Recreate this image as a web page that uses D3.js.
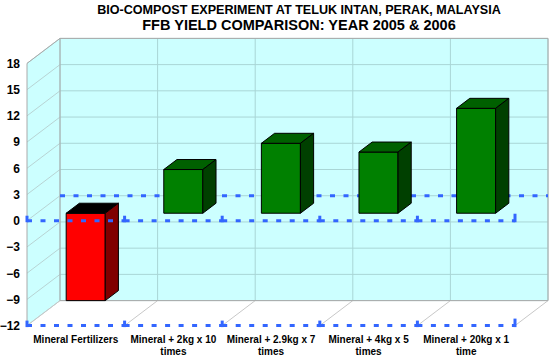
<!DOCTYPE html>
<html>
<head>
<meta charset="utf-8">
<script src="https://cdn.jsdelivr.net/npm/d3@7"></script>
<style>
    body { margin: 0; background: #fff; }
    text { font-family: "Liberation Sans", Arial, sans-serif; font-weight: bold; fill: #000; }
</style>
</head>
<body>
<svg id="chart"></svg>
<script>
const titleLines = ['BIO-COMPOST EXPERIMENT AT TELUK INTAN, PERAK, MALAYSIA',
                    'FFB YIELD COMPARISON: YEAR 2005 & 2006'];
const categories = ['Mineral Fertilizers', 'Mineral + 2kg x 10 times', 'Mineral + 2.9kg x 7 times',
                    'Mineral + 4kg x 5 times', 'Mineral + 20kg x 1 time'];
const yieldChange = [-10, 5, 8, 7, 12];
const yTicks = [-12, -9, -6, -3, 0, 3, 6, 9, 12, 15, 18];

function drawChart() {
    var width = 550, height = 359;
    var plotLeft = 27, plotRight = 515, plotBottom = 325.6, plotTop = 63.4;
    // depth offset of the 3d box
    var DX = 33, DY = -25;

    var svg = d3.select('#chart')
        .attr('width', width)
        .attr('height', height);

    var x = d3.scaleBand().domain(categories).range([plotLeft, plotRight]).padding(0);
    var y = d3.scaleLinear().domain([yTicks[0], yTicks[yTicks.length-1]]).range([plotBottom, plotTop]);

    function pts(a) { return a.map(function(p) {return p.join(',');}).join(' '); }

    // back wall
    svg.append('polygon')
        .attr('points', pts([[plotLeft+DX, plotTop+DY], [plotRight+DX, plotTop+DY],
                             [plotRight+DX, plotBottom+DY], [plotLeft+DX, plotBottom+DY]]))
        .attr('fill', '#ccffff');
    // left wall
    svg.append('polygon')
        .attr('points', pts([[plotLeft, plotTop], [plotLeft+DX, plotTop+DY],
                             [plotLeft+DX, plotBottom+DY], [plotLeft, plotBottom]]))
        .attr('fill', '#ccffff');

    var grid = svg.append('g').attr('class', 'grid');
    grid.selectAll('line.h')
        .data(yTicks)
        .enter().append('line')
        .attr('x1', plotLeft+DX).attr('x2', plotRight+DX)
        .attr('y1', function(d) {return y(d)+DY;})
        .attr('y2', function(d) {return y(d)+DY;})
        .attr('stroke', '#a9d6d6');
    grid.selectAll('line.d')
        .data(yTicks)
        .enter().append('line')
        .attr('x1', plotLeft).attr('x2', plotLeft+DX)
        .attr('y1', function(d) {return y(d);})
        .attr('y2', function(d) {return y(d)+DY;})
        .attr('stroke', '#b8d4d4');

    var bounds = categories.map(function(c) {return x(c);}).concat([plotRight]);
    grid.selectAll('line.v')
        .data(bounds)
        .enter().append('line')
        .attr('x1', function(d) {return d+DX;})
        .attr('x2', function(d) {return d+DX;})
        .attr('y1', plotTop+DY).attr('y2', plotBottom+DY)
        .attr('stroke', '#a9d6d6');
    // floor diagonals
    grid.selectAll('line.f')
        .data(bounds)
        .enter().append('line')
        .attr('x1', function(d) {return d;})
        .attr('x2', function(d) {return d+DX;})
        .attr('y1', plotBottom).attr('y2', plotBottom+DY)
        .attr('stroke', '#c8c8c8');

    // wall borders
    svg.append('polyline')
        .attr('points', pts([[plotLeft, plotBottom], [plotLeft, plotTop], [plotLeft+DX, plotTop+DY],
                             [plotRight+DX, plotTop+DY], [plotRight+DX, plotBottom+DY]]))
        .attr('fill', 'none')
        .attr('stroke', '#aaaaaa');
    svg.append('line')
        .attr('x1', plotLeft+DX).attr('x2', plotLeft+DX)
        .attr('y1', plotTop+DY).attr('y2', plotBottom+DY)
        .attr('stroke', '#aaaaaa');
    svg.append('line')
        .attr('x1', plotLeft+DX).attr('x2', plotRight+DX)
        .attr('y1', plotBottom+DY).attr('y2', plotBottom+DY)
        .attr('stroke', '#aaaaaa');

    // dashed zero line, back edge
    var dashColor = '#3366ff';
    svg.append('line')
        .attr('x1', plotLeft+DX).attr('x2', plotRight+DX)
        .attr('y1', y(0)+DY).attr('y2', y(0)+DY)
        .attr('stroke', dashColor)
        .attr('stroke-width', 3)
        .attr('stroke-dasharray', '5,8.5');

    // bars
    var faces = {neg: ['#ff0000', '#000000', '#800000'], pos: ['#008000', '#006000', '#004000']};
    var bw = x.bandwidth()*0.4;
    var f0 = 0.3, fd = 0.4;
    var bars = svg.append('g').attr('class', 'bars')
        .selectAll('g')
        .data(categories)
        .enter().append('g');

    bars.each(function(c, i) {
        var v = yieldChange[i];
        var col = v < 0 ? faces.neg : faces.pos;
        var x1 = x(c) + x.bandwidth()/2 - bw/2 + DX*f0;
        var x2 = x1 + bw;
        var yt = y(Math.max(v, 0)) + DY*f0;
        var yb = y(Math.min(v, 0)) + DY*f0;
        var dx = DX*fd, dy = DY*fd;
        var g = d3.select(this);
        g.append('polygon')
            .attr('points', pts([[x1, yt], [x2, yt], [x2, yb], [x1, yb]]))
            .attr('fill', col[0]).attr('stroke', '#000');
        g.append('polygon')
            .attr('points', pts([[x1, yt], [x1+dx, yt+dy], [x2+dx, yt+dy], [x2, yt]]))
            .attr('fill', col[1]).attr('stroke', '#000');
        g.append('polygon')
            .attr('points', pts([[x2, yt], [x2+dx, yt+dy], [x2+dx, yb+dy], [x2, yb]]))
            .attr('fill', col[2]).attr('stroke', '#000');
    });

    // front dashed lines with little ticks at the band edges
    function frontDash(val) {
        var yy = y(val);
        var g = svg.append('g')
            .attr('stroke', dashColor)
            .attr('stroke-width', 3);
        g.selectAll('line.seg')
            .data(categories)
            .enter().append('line')
            .attr('x1', function(c) {return x(c);})
            .attr('x2', function(c) {return x(c) + x.bandwidth();})
            .attr('y1', yy).attr('y2', yy)
            .attr('stroke-dasharray', '5,8.5');
        g.selectAll('line.tick')
            .data(bounds)
            .enter().append('line')
            .attr('x1', function(d) {return d;})
            .attr('x2', function(d) {return d;})
            .attr('y1', function(d, i) {return i === bounds.length-1 ? yy-7 : yy-5;})
            .attr('y2', yy+1.5);
    }
    frontDash(0);
    frontDash(yTicks[0]);

    // y axis
    var yAxis = svg.append('g')
        .attr('transform', 'translate(' + plotLeft + ',0)')
        .call(d3.axisLeft(y).tickValues(yTicks).tickSize(0).tickPadding(7));
    yAxis.select('.domain').remove();
    yAxis.selectAll('text')
        .attr('font-size', '12px')
        .attr('font-family', '"Liberation Sans", Arial, sans-serif')
        .attr('font-weight', 'bold')
        .attr('fill', '#000');

    // category labels, wrapped to the band width
    svg.append('g').attr('class', 'xlabels')
        .selectAll('text')
        .data(categories)
        .enter().append('text')
        .attr('x', function(d) {return x(d) + x.bandwidth()/2;})
        .attr('y', 343)
        .attr('text-anchor', 'middle')
        .attr('font-size', '10px')
        .each(function(d) {
            var t = d3.select(this), words = d.split(' '), line = [];
            var span = t.append('tspan').attr('x', t.attr('x'));
            words.forEach(function(w) {
                line.push(w);
                span.text(line.join(' '));
                if (span.node().getComputedTextLength() > x.bandwidth()-8 && line.length > 1) {
                    line.pop();
                    span.text(line.join(' '));
                    line = [w];
                    span = t.append('tspan').attr('x', t.attr('x')).attr('dy', 12).text(w);
                }
            });
        });

    // title
    svg.append('g').attr('class', 'title')
        .selectAll('text')
        .data(titleLines)
        .enter().append('text')
        .attr('x', 299)
        .attr('y', function(d, i) {return i ? 30 : 14;})
        .attr('text-anchor', 'middle')
        .attr('font-size', function(d, i) {return i ? '14.5px' : '12.6px';})
        .text(function(d) {return d;});
}

drawChart();
</script>
</body>
</html>
